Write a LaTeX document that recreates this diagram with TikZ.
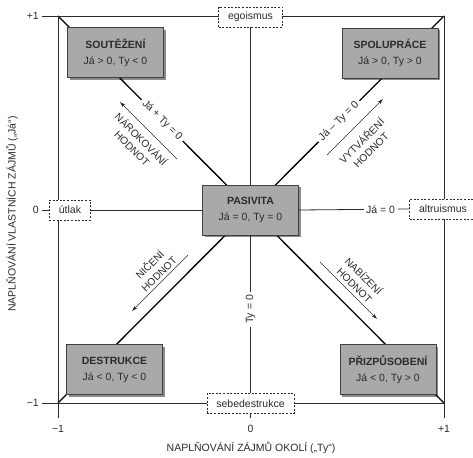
\documentclass[tikz,border=0pt]{standalone}
\usepackage{fontspec}
\setmainfont{Liberation Sans}
\usetikzlibrary{arrows.meta,shadows}
\definecolor{boxfill}{HTML}{A9A9A9}
\definecolor{ink}{HTML}{2B2B2B}

\begin{document}
\begin{tikzpicture}[x=1pt,y=-1pt,
  font=\fontsize{10.5}{12}\selectfont,
  every node/.style={text=ink},
  frame/.style={draw=ink,line width=0.8pt},
  diag/.style={draw=black,line width=1.3pt},
  state/.style={draw=black!75,line width=0.6pt,fill=boxfill,
    minimum width=96pt,minimum height=50pt,align=center,inner sep=0pt,
    drop shadow={shadow xshift=2.2pt,shadow yshift=-2.2pt,opacity=0.45,fill=black},
    font=\fontsize{10.5}{16}\selectfont},
  pole/.style={draw=ink,dash pattern=on 2pt off 1.6pt,fill=white,
    minimum height=20pt,inner xsep=9.5pt,inner ysep=0pt,line width=0.6pt},
  linelab/.style={fill=white,inner xsep=3pt,inner ysep=1pt},
  flow/.style={draw=ink,line width=0.6pt,-{Stealth[length=6pt,width=3.6pt]}},
  flowlab/.style={align=center,font=\fontsize{10.3}{13}\selectfont,inner sep=0pt},
  ticklab/.style={inner sep=0pt}
]
\useasboundingbox (0,0) rectangle (473,457);

% corners of the frame and free ends of the tick marks
\coordinate (tl) at (58,16);
\coordinate (tr) at (444,16);
\coordinate (bl) at (58,403);
\coordinate (br) at (444,403);
\coordinate (tkT) at (42,16);
\coordinate (tkB) at (42,403);
\coordinate (tkL) at (58,418);
\coordinate (tkR) at (444,418);
\coordinate (tkZ) at (42,210);
\coordinate (tkS) at (250.5,418);

% diagonals through the centre
\draw[diag] (tl) -- node[pos=0.27,linelab,rotate=-45] {Já + Ty = 0} (br);
\draw[diag] (tr) -- node[pos=0.272,linelab,rotate=45] {Já – Ty = 0} (bl);

% frame with ticks
\draw[frame] (tkT) -- (tr) -- (tkR);
\draw[frame] (tkB) -- (br);
\draw[frame] (tl) -- (tkL);

% states
\node[state] (sout)  at (115.5,52.5) {\textbf{SOUTĚŽENÍ}\\Já > 0, Ty < 0};
\node[state] (spol)  at (390,53)     {\textbf{SPOLUPRÁCE}\\Já > 0, Ty > 0};
\node[state] (pas)   at (250.5,210)  {\textbf{PASIVITA}\\Já = 0, Ty = 0};
\node[state] (destr) at (114.5,369.5){\textbf{DESTRUKCE}\\Já < 0, Ty < 0};
\node[state] (prizp) at (388,369.5)  {\textbf{PŘIZPŮSOBENÍ}\\Já < 0, Ty > 0};

% extreme poles on the frame
\node[pole] (ego)   at (250.5,17)  {egoismus};
\node[pole] (utlak) at (70,210)    {útlak};
\node[pole] (alt)   at (443,209)   {altruismus};
\node[pole] (sebe)  at (250.5,403.5) {sebedestrukce};

% axes through the centre
\draw[frame] (ego) -- (pas);
\draw[frame] (pas) -- node[pos=0.47,linelab,rotate=90] {Ty = 0} (sebe);
\draw[frame] (utlak) -- (pas);
\draw[frame] (pas.east) -- node[pos=0.74,linelab,inner xsep=2.5pt] {Já = 0} (alt.west);
\draw[frame] (tkZ) -- (utlak);
\draw[frame] (sebe) -- (tkS);

% flows of value
\coordinate (f1s) at (177,159);  \coordinate (f1e) at (120,102);
\coordinate (f2s) at (327,155);  \coordinate (f2e) at (383,99);
\coordinate (f3s) at (188,255);  \coordinate (f3e) at (132,311);
\coordinate (f4s) at (320,262);  \coordinate (f4e) at (377,319);
\draw[flow] (f1s) -- (f1e);
\draw[flow] (f2s) -- (f2e);
\draw[flow] (f3s) -- (f3e);
\draw[flow] (f4s) -- (f4e);
\node[flowlab,rotate=-45] (nar) at (137,143.5) {NÁROKOVÁNÍ\\HODNOT};
\node[flowlab,rotate=45]  (vyt) at (366,145)   {VYTVÁŘENÍ\\HODNOT};
\node[flowlab,rotate=45]  (nic) at (154,269)   {NIČENÍ\\HODNOT};
\node[flowlab,rotate=-45] (nab) at (359.5,280.5) {NABÍZENÍ\\HODNOT};

% scale values
\node[ticklab,anchor=east] (yp) at (39,16)  {+1};
\node[ticklab,anchor=east] (yz) at (39,210) {0};
\node[ticklab,anchor=east] (ym) at (39,403) {−1};
\node[ticklab] (xm) at (58,429)    {−1};
\node[ticklab] (xz) at (250.5,429) {0};
\node[ticklab] (xp) at (444,429)   {+1};

% axis titles
\node[rotate=90] (ylab) at (12,214) {NAPLŇOVÁNÍ VLASTNÍCH ZÁJMŮ („Já“)};
\node (xlab) at (251,448) {NAPLŇOVÁNÍ ZÁJMŮ OKOLÍ („Ty“)};
\end{tikzpicture}
\end{document}
